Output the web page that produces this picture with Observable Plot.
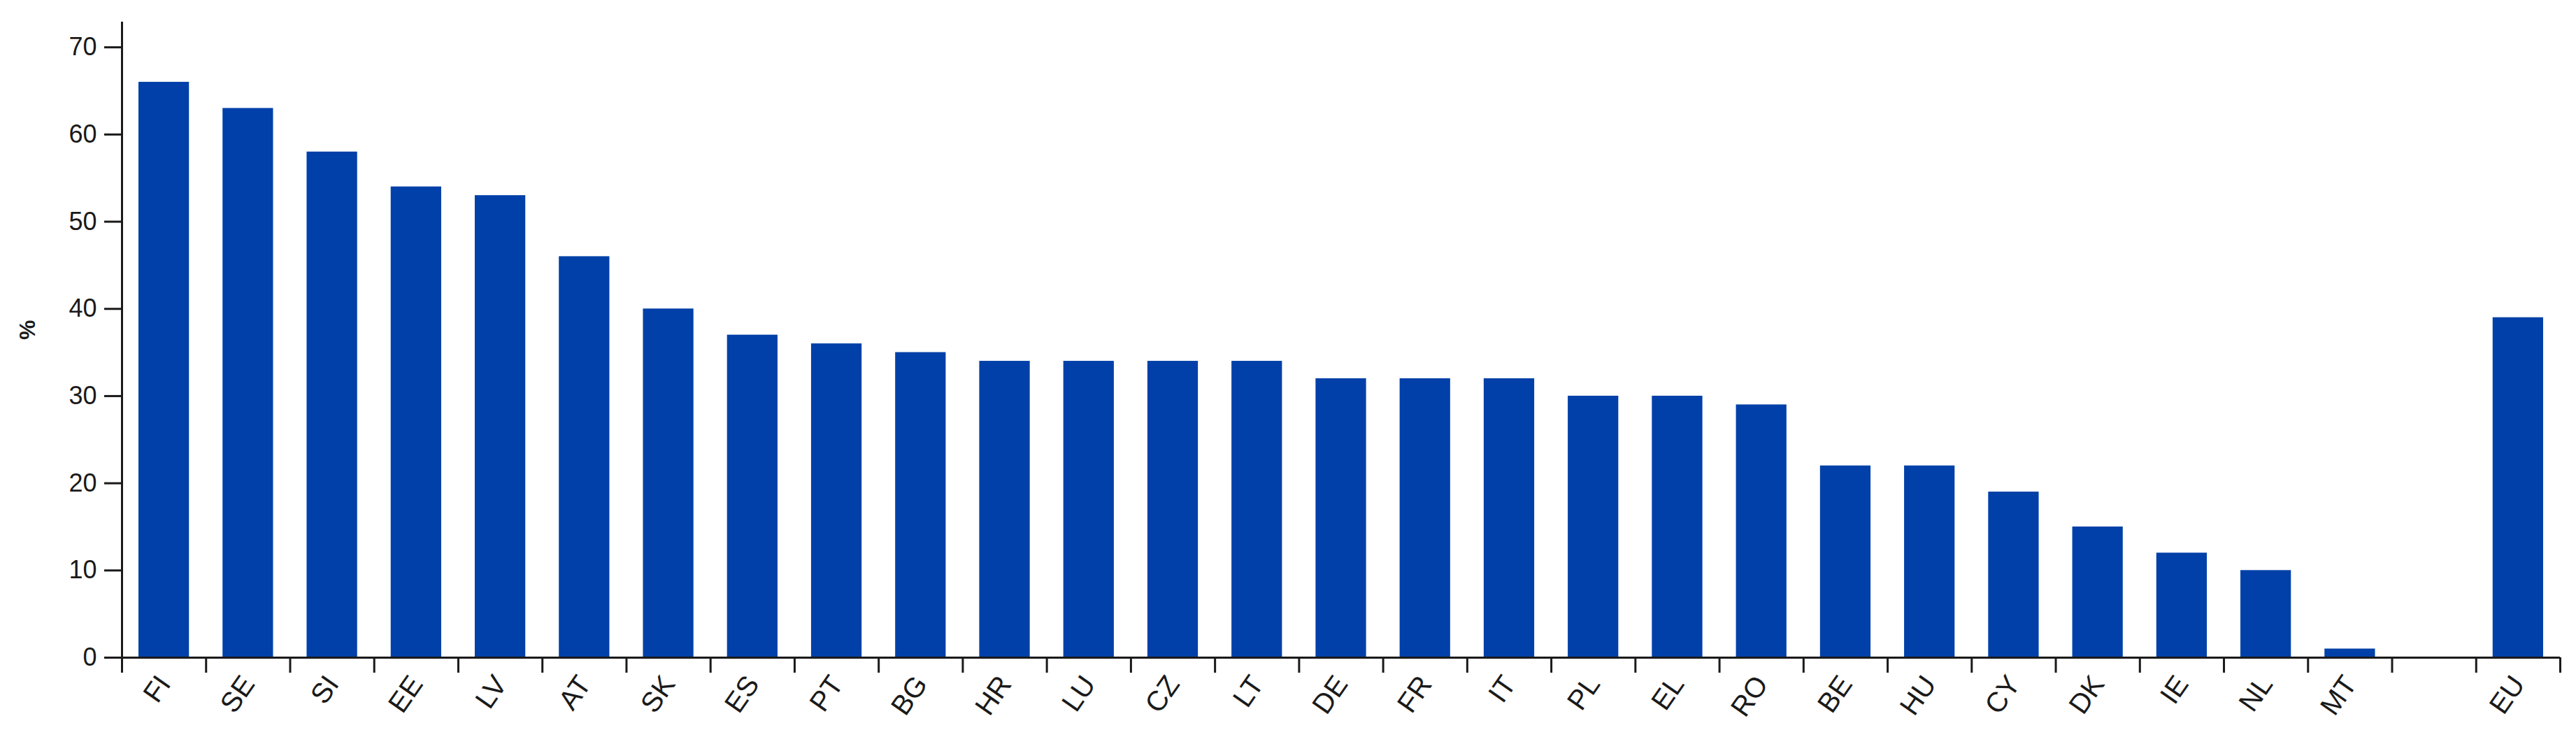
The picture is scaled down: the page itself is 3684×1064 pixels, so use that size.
<!DOCTYPE html>
<html>
<head>
<meta charset="utf-8">
<script src="https://cdn.jsdelivr.net/npm/d3@7"></script>
<script src="https://cdn.jsdelivr.net/npm/@observablehq/plot@0.6"></script>
<style>
  html, body { margin: 0; padding: 0; background: #fff; }
</style>
</head>
<body>
<div id="chart"></div>
<script>
const countries = ["FI","SE","SI","EE","LV","AT","SK","ES","PT","BG","HR","LU","CZ","LT","DE","FR","IT","PL","EL","RO","BE","HU","CY","DK","IE","NL","MT"];
const values    = [66, 63, 58, 54, 53, 46, 40, 37, 36, 35, 34, 34, 34, 34, 32, 32, 32, 30, 30, 29, 22, 22, 19, 15, 12, 10, 1];
const euLabel = "EU";
const euValue = 39;
const yTicks = [0, 10, 20, 30, 40, 50, 60, 70];
const yLabel = "%";

// one empty slot between the countries and the EU aggregate
const rows = countries.map((c, i) => ({label: c, value: values[i], pos: i}));
rows.push({label: euLabel, value: euValue, pos: countries.length + 1});
const nSlots = countries.length + 2;
const boundaries = d3.range(0, nSlots + 1);

const axisColor = "#1a1a1a";

const chart = Plot.plot({
  width: 3684,
  height: 1064,
  marginLeft: 174,
  marginRight: 23,
  marginTop: 31,
  marginBottom: 124,
  style: {fontFamily: "'Liberation Sans', Arial, sans-serif", color: axisColor, background: "#fff"},
  x: {type: "linear", domain: [0, nSlots]},
  y: {domain: [0, 72.9]},
  marks: [
    Plot.rectY(rows, {x1: d => d.pos, x2: d => d.pos + 1, y: "value", insetLeft: 24, insetRight: 24, fill: "#0040a8"}),
    Plot.ruleY([0], {stroke: axisColor, strokeWidth: 3}),
    Plot.ruleX([0], {stroke: axisColor, strokeWidth: 3}),
    Plot.axisY({ticks: yTicks, tickSize: 25, tickPadding: 11, fontSize: 36, label: null, strokeWidth: 3, tickFormat: d => String(d)}),
    Plot.axisX({ticks: boundaries, tickSize: 22, tickFormat: () => "", label: null, strokeWidth: 3}),
    Plot.text(rows, {x: d => d.pos + 0.5, frameAnchor: "bottom", text: "label", rotate: -55, textAnchor: "end", dx: 11, dy: 38, fontSize: 40, fill: axisColor}),
    Plot.text([yLabel], {frameAnchor: "left", text: d => d, rotate: -90, dx: -135, fontSize: 32, fontWeight: "bold", fill: axisColor})
  ]
});
document.getElementById("chart").appendChild(chart);
</script>
</body>
</html>
